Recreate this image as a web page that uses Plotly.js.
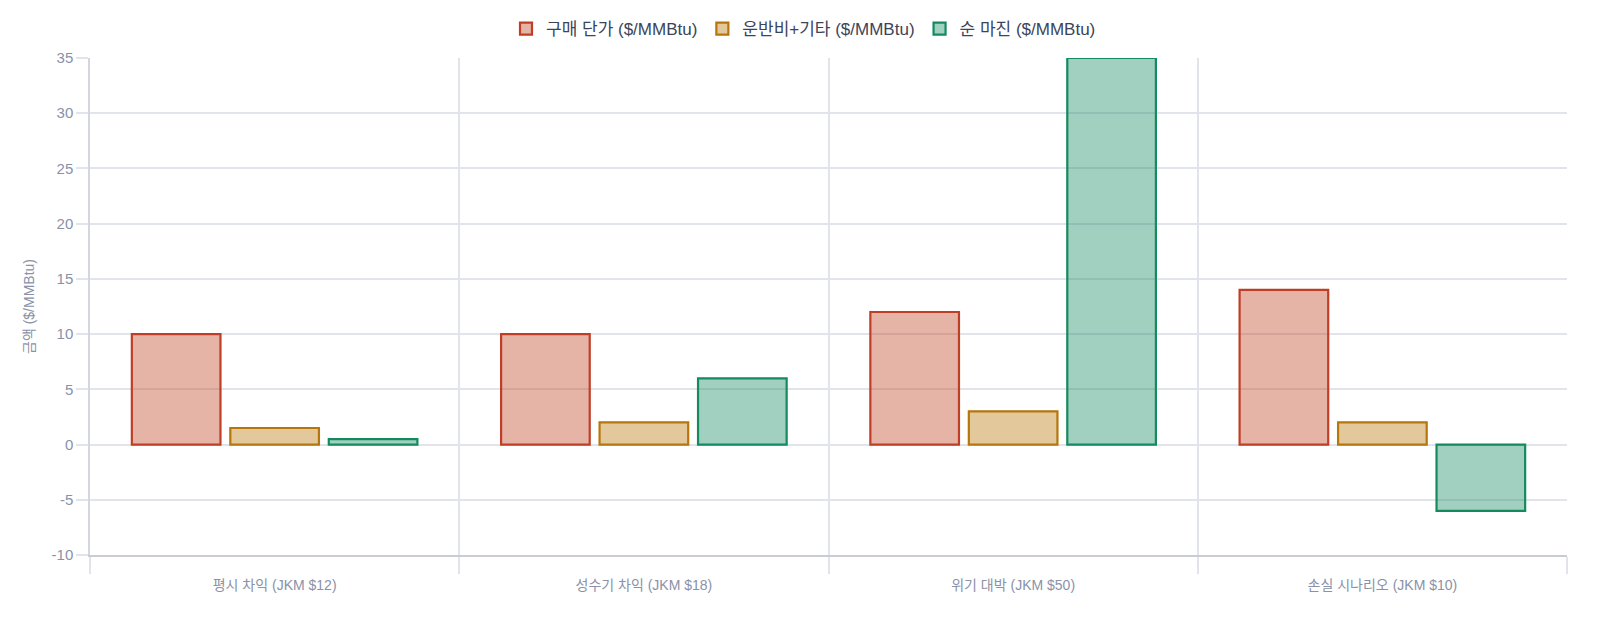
<!DOCTYPE html>
<html>
<head>
<meta charset="utf-8">
<script src="https://cdn.plot.ly/plotly-3.0.1.min.js"></script>
<style>
  html, body { margin: 0; padding: 0; background: #ffffff; }
  #chart { width: 1607px; height: 620px; }
</style>
</head>
<body>
<div id="chart"></div>
<script>
// Данные
const scenarios = ["평시 차익 (JKM $12)", "성수기 차익 (JKM $18)", "위기 대박 (JKM $50)", "손실 시나리오 (JKM $10)"];
const purchasePrice = [10, 10, 12, 14];
const shippingOther = [1.5, 2, 3, 2];
const netMargin = [0.5, 6, 35, -6];
const yTickValues = [-10, -5, 0, 5, 10, 15, 20, 25, 30, 35];
const yTickLabels = ["-10", "-5", "0", "5", "10", "15", "20", "25", "30", "35"];

const FONT = "'Helvetica Neue', 'Liberation Sans', 'Noto Sans CJK KR', sans-serif";
const GRID = "#e1e4ea";
const TICK_TEXT = "#8a91a8";

function barTrace(name, values, line, fill) {
  return {
    type: "bar",
    name: name,
    x: scenarios,
    y: values,
    marker: { color: fill, line: { color: line, width: 2.2 } },
    hoverinfo: "x+y+name",
  };
}

const traces = [
  barTrace("구매 단가 ($/MMBtu)", purchasePrice, "#c03e26", "rgba(192,65,35,0.4)"),
  barTrace("운반비+기타 ($/MMBtu)", shippingOther, "#b6760a", "rgba(182,117,2,0.4)"),
  barTrace("순 마진 ($/MMBtu)", netMargin, "#148a5f", "rgba(22,137,97,0.4)"),
];

const layout = {
  width: 1607,
  height: 620,
  margin: { l: 90, r: 40, t: 58, b: 65 },
  paper_bgcolor: "#ffffff",
  plot_bgcolor: "#ffffff",
  font: { family: FONT, color: TICK_TEXT, size: 14 },
  barmode: "group",
  bargap: 0.2,
  bargroupgap: 0.1,
  showlegend: true,
  legend: {
    orientation: "h",
    x: 0.5,
    xanchor: "center",
    xref: "container",
    y: 0.953,
    yanchor: "middle",
    yref: "container",
    font: { family: FONT, size: 17, color: "#3c4459" },
    itemclick: false,
  },
  xaxis: {
    type: "category",
    tickson: "boundaries",
    ticks: "outside",
    ticklen: 17,
    tickcolor: GRID,
    tickwidth: 1.5,
    ticklabelstandoff: 16,
    showgrid: true,
    gridcolor: GRID,
    gridwidth: 1.5,
    showline: true,
    linecolor: "#c9ccd4",
    linewidth: 1.5,
    tickfont: { family: FONT, size: 14, color: TICK_TEXT },
    fixedrange: true,
  },
  yaxis: {
    range: [-10, 35],
    tickmode: "array",
    tickvals: yTickValues,
    ticktext: yTickLabels,
    ticks: "outside",
    ticklen: 12,
    tickcolor: GRID,
    tickwidth: 1.5,
    showgrid: true,
    gridcolor: GRID,
    gridwidth: 1.5,
    zeroline: true,
    zerolinecolor: GRID,
    zerolinewidth: 1.5,
    showline: true,
    linecolor: "#d3d6dd",
    linewidth: 1.5,
    tickfont: { family: FONT, size: 15, color: TICK_TEXT },
    title: { text: "금액 ($/MMBtu)", font: { family: FONT, size: 14, color: TICK_TEXT }, standoff: 14 },
    fixedrange: true,
  },
};

const config = { responsive: false, displayModeBar: false };

Plotly.newPlot("chart", traces, layout, config);
</script>
</body>
</html>
